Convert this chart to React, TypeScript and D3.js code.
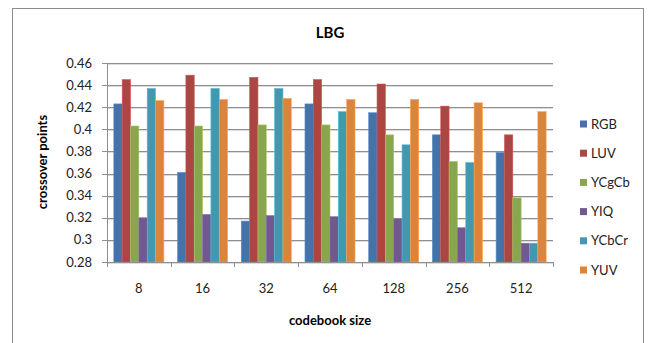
import React from "react";
import * as d3 from "d3";

const categories = ["8", "16", "32", "64", "128", "256", "512"];
const seriesNames = ["RGB", "LUV", "YCgCb", "YIQ", "YCbCr", "YUV"];
const RGB = [0.423, 0.361, 0.317, 0.423, 0.415, 0.395, 0.379];
const LUV = [0.445, 0.449, 0.447, 0.445, 0.441, 0.421, 0.395];
const YCgCb = [0.403, 0.403, 0.404, 0.404, 0.395, 0.371, 0.338];
const YIQ = [0.320, 0.323, 0.322, 0.321, 0.319, 0.311, 0.297];
const YCbCr = [0.437, 0.437, 0.437, 0.416, 0.386, 0.370, 0.297];
const YUV = [0.426, 0.427, 0.428, 0.427, 0.427, 0.424, 0.416];
const yTicks = [0.28, 0.3, 0.32, 0.34, 0.36, 0.38, 0.4, 0.42, 0.44, 0.46];
const colors = ["#4572A7", "#AA4643", "#89A54E", "#71588F", "#4198AF", "#DB843D"];

const seriesValues = [RGB, LUV, YCgCb, YIQ, YCbCr, YUV];

export default function App() {
  const W = 649, H = 343;
  const left = 107, right = 553, top = 63, bottom = 262;
  const font = "Lato, 'Open Sans', sans-serif";

  const x0 = d3.scaleBand<string>().domain(categories).range([left, right]).padding(0);
  const x1 = d3.scaleBand<string>().domain(seriesNames).range([0, x0.bandwidth()]).paddingInner(0).paddingOuter(0.82);
  const y = d3.scaleLinear().domain([0.28, 0.46]).range([bottom, top]);

  const legendY0 = 124, legendStep = 29.2;

  return (
    <svg width={W} height={H} style={{ position: "fixed", left: 0, top: 0 }} fontFamily={font}>
      <rect x={0} y={0} width={W} height={H} fill="#fff" />
      <rect x={12.5} y={8.5} width={631} height={345} fill="none" stroke="#8c8c8c" strokeWidth={1} />
      <text x={330} y={38} textAnchor="middle" fontSize={15} fontWeight="bold" fill="#000">LBG</text>

      {yTicks.map((t) => (
        <g key={t}>
          <line x1={left} x2={right} y1={Math.round(y(t)) + 1.5} y2={Math.round(y(t)) + 1.5} stroke="#dcdcdc" strokeWidth={1} />
          <line x1={left - 5} x2={right} y1={Math.round(y(t)) + 0.5} y2={Math.round(y(t)) + 0.5} stroke="#8f8f8f" strokeWidth={1} />
          <text x={92} y={y(t)} dy="0.35em" textAnchor="end" fontSize={13} fill="#222">{String(+t.toFixed(2))}</text>
        </g>
      ))}

      {categories.map((c, i) => (
        <g key={c}>
          {seriesValues.map((vals, s) => (
            <rect
              key={s}
              x={(x0(c) as number) + (x1(seriesNames[s]) as number)}
              y={y(vals[i])}
              width={x1.bandwidth()}
              height={bottom - y(vals[i])}
              fill={colors[s]}
              stroke={d3.color(colors[s])!.brighter(0.6).toString()}
              strokeWidth={0.6}
            />
          ))}
          <text x={(x0(c) as number) + x0.bandwidth() / 2} y={293} textAnchor="middle" fontSize={13} fill="#222">{c}</text>
        </g>
      ))}

      <line x1={left + 0.5} x2={left + 0.5} y1={top} y2={bottom} stroke="#8f8f8f" />
      <line x1={left} x2={right} y1={bottom + 0.5} y2={bottom + 0.5} stroke="#8f8f8f" />
      {categories.concat([""]).map((_, i) => {
        const xx = Math.round(left + i * x0.bandwidth()) + 0.5;
        return <line key={i} x1={xx} x2={xx} y1={bottom} y2={bottom + 5} stroke="#8f8f8f" />;
      })}

      <text transform={`translate(47,162) rotate(-90)`} textAnchor="middle" fontSize={13} fontWeight="bold" fill="#000">crossover points</text>
      <text x={330} y={325} textAnchor="middle" fontSize={13} fontWeight="bold" fill="#000">codebook size</text>

      {seriesNames.map((n, s) => (
        <g key={n} transform={`translate(580,${legendY0 + s * legendStep})`}>
          <rect x={0} y={-3.5} width={7} height={7} fill={colors[s]} />
          <text x={11} y={0} dy="0.35em" fontSize={13} fill="#222">{n}</text>
        </g>
      ))}
    </svg>
  );
}
